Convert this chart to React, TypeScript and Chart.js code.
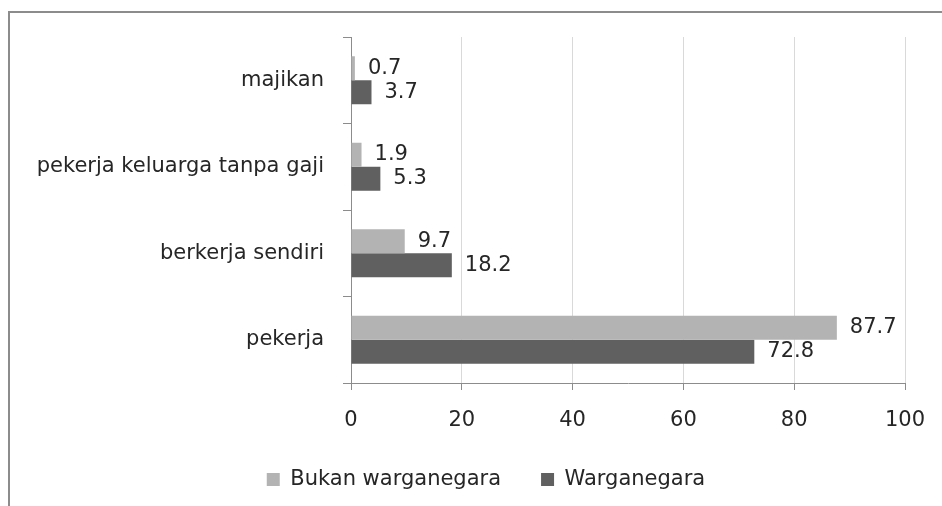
import React, { useEffect, useRef } from "react";
import { Chart, registerables } from "chart.js";

Chart.register(...registerables);

const categories = ["majikan", "pekerja keluarga tanpa gaji", "berkerja sendiri", "pekerja"];
const seriesNames = ["Bukan warganegara", "Warganegara"];
const bukanWarganegara = [0.7, 1.9, 9.7, 87.7];
const warganegara = [3.7, 5.3, 18.2, 72.8];
const xTicks = [0, 20, 40, 60, 80, 100];

const FONT = "'DejaVu Sans', sans-serif";
const TEXT = "#262626";
const FS = 21;

const framePlugin = {
  id: "frame",
  beforeDraw(chart: any) {
    const ctx = chart.ctx;
    ctx.save();
    ctx.fillStyle = "#ffffff";
    ctx.fillRect(0, 0, chart.width, chart.height);
    ctx.strokeStyle = "#8c8c8c";
    ctx.lineWidth = 2;
    ctx.beginPath();
    ctx.moveTo(8, 12);
    ctx.lineTo(chart.width, 12);
    ctx.moveTo(9, 11);
    ctx.lineTo(9, chart.height);
    ctx.stroke();
    ctx.restore();
  },
};

const legendCenterPlugin = {
  id: "legendCenter",
  afterLayout(chart: any) {
    const lg = chart.legend;
    if (lg) {
      // centre legend items at x = 486 (center = (left + right) / 2)
      lg.left = 2 * 486 - lg.right;
    }
  },
};

const valueLabelPlugin = {
  id: "valueLabels",
  afterDatasetsDraw(chart: any) {
    const ctx = chart.ctx;
    ctx.save();
    ctx.font = `${FS}px ${FONT}`;
    ctx.fillStyle = TEXT;
    ctx.textAlign = "left";
    ctx.textBaseline = "middle";
    chart.data.datasets.forEach((ds: any, di: number) => {
      const meta = chart.getDatasetMeta(di);
      meta.data.forEach((el: any, i: number) => {
        ctx.fillText(String(ds.data[i]), el.x + 13, el.y);
      });
    });
    ctx.restore();
  },
};

export default function App() {
  const ref = useRef<HTMLCanvasElement | null>(null);
  useEffect(() => {
    if (!ref.current) return;
    const chart = new Chart(ref.current, {
      type: "bar",
      data: {
        labels: categories,
        datasets: [
          { label: seriesNames[0], data: bukanWarganegara, backgroundColor: "#b3b3b3", borderWidth: 0 },
          { label: seriesNames[1], data: warganegara, backgroundColor: "#606060", borderWidth: 0 },
        ],
      },
      options: {
        indexAxis: "y",
        responsive: false,
        animation: false,
        devicePixelRatio: 1,
        layout: { padding: { left: 20, right: 37, top: 37, bottom: 6 } },
        datasets: { bar: { categoryPercentage: 0.555, barPercentage: 1 } },
        scales: {
          x: {
            min: 0,
            max: 100,
            afterBuildTicks(scale: any) {
              scale.ticks = xTicks.map((v) => ({ value: v }));
            },
            afterFit(scale: any) {
              scale.height = 46;
              scale.paddingLeft = 0;
              scale.paddingRight = 0;
            },
            grid: { color: "#d9d9d9", tickColor: "#8c8c8c", tickLength: 7, lineWidth: 1 },
            border: { color: "#8c8c8c", width: 1 },
            ticks: { color: TEXT, font: { family: FONT, size: FS }, padding: 18, maxRotation: 0 },
          },
          y: {
            afterFit(scale: any) {
              scale.width = 351 - 20;
            },
            grid: { drawOnChartArea: false, offset: true, tickColor: "#8c8c8c", tickLength: 8 },
            border: { color: "#8c8c8c", width: 1 },
            ticks: { color: TEXT, font: { family: FONT, size: FS }, padding: 19 },
          },
        },
        plugins: {
          legend: {
            position: "bottom",
            labels: {
              color: TEXT,
              font: { family: FONT, size: FS },
              boxWidth: 13,
              boxHeight: 13,
              padding: 40,
            },
          },
          tooltip: { enabled: false },
        },
      },
      plugins: [framePlugin, legendCenterPlugin, valueLabelPlugin],
    });
    return () => chart.destroy();
  }, []);
  return (
    <div style={{ position: "absolute", left: 0, top: 0, width: 942, height: 506 }}>
      <canvas ref={ref} width={942} height={506} style={{ width: 942, height: 506, display: "block" }} />
    </div>
  );
}
